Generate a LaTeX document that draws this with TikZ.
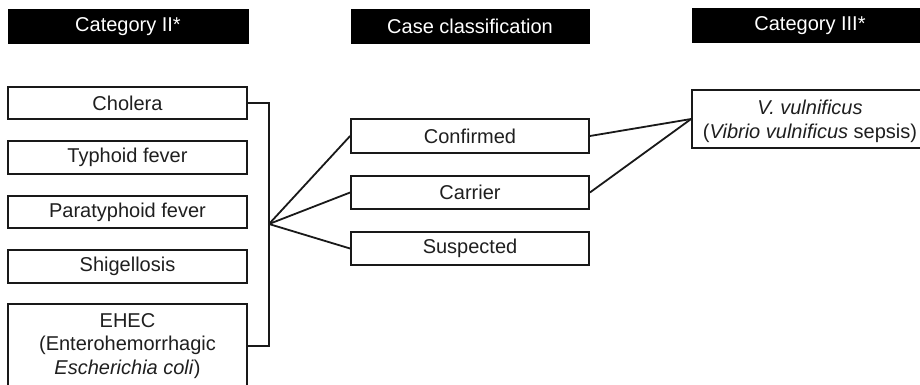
\documentclass[tikz,border=0pt]{standalone}
\usepackage{fontspec}
\setmainfont{Liberation Sans}
\begin{document}
\begin{tikzpicture}[x=1pt,y=-1pt,
  txt/.style={font=\fontsize{20}{23.5}\selectfont, text=black!88},
  hdr/.style={fill=black, draw=black, text=white, inner sep=0pt, font=\fontsize{20}{23.5}\selectfont, minimum height=34pt},
  box/.style={draw=black!90, line width=1.8pt, inner sep=0pt, txt, align=center},
  conn/.style={draw=black!90, line width=1.8pt}]
\useasboundingbox (0,0) rectangle (920,384);
\clip (0,0) rectangle (920,384);
\fill[white] (0,0) rectangle (920,384);
% headers
\node[hdr, minimum width=240pt] (h1) at (128,26.5) {Category II*};
\node[hdr, minimum width=238pt] (h2) at (470,26) {Case classification};
\node[hdr, minimum width=236pt] (h3) at (810,25.5) {Category III*};
% left column
\node[box, minimum width=239pt, minimum height=32pt] (cholera) at (127.5,103) {Cholera};
\node[box, minimum width=239pt, minimum height=33pt] (typhoid) at (127.5,157.5) {Typhoid fever};
\node[box, minimum width=239pt, minimum height=32pt] (para) at (127.5,212) {Paratyphoid fever};
\node[box, minimum width=239pt, minimum height=33pt] (shig) at (127.5,266.5) {Shigellosis};
\node[box, minimum width=239pt, minimum height=84pt] (ehec) at (127.5,346) {EHEC\\(Enterohemorrhagic\\\textit{Escherichia coli})};
% middle column
\node[box, minimum width=238pt, minimum height=34pt] (conf) at (470,136) {Confirmed};
\node[box, minimum width=238pt, minimum height=33pt] (carr) at (470,192.5) {Carrier};
\node[box, minimum width=238pt, minimum height=33pt] (susp) at (470,248.5) {Suspected};
% right
\node[box, minimum width=236pt, minimum height=58pt, font=\fontsize{20}{24}\selectfont, text depth=0pt] (vv) at (810,119) {\textit{V. vulnificus}\\(\textit{Vibrio vulnificus} sepsis)};
% connectors
\coordinate (j) at (269,224);
\draw[conn] (cholera.east) -- (269,103) -- (269,346) -- (ehec.east);
\draw[conn] (j) -- (conf.west);
\draw[conn] (j) -- (carr.west);
\draw[conn] (j) -- (susp.west);
\draw[conn] (conf.east) -- (vv.west);
\draw[conn] (carr.east) -- (vv.west);
\end{tikzpicture}
\end{document}
